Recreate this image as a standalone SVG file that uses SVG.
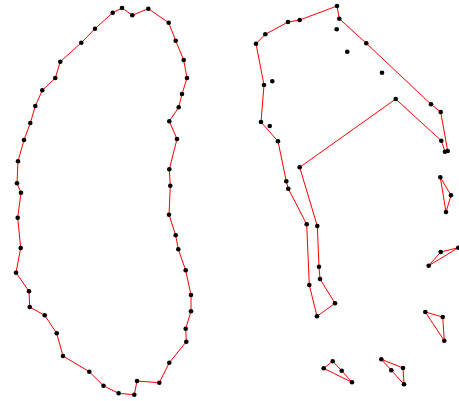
<svg xmlns="http://www.w3.org/2000/svg" width="459" height="401" viewBox="0 0 459 401">
<style>
.e{fill:none;stroke:#ff0000;stroke-width:1;stroke-linejoin:round}
.p{fill:#000}
</style>
<rect width="459" height="401" fill="#fff"/>
<g id="connectors">
<polygon class="e" points="112.7,12.7 122,8 132.3,15.3 148.3,8.7 168.7,22.7 175.7,40.7 183.7,60 187,78 182,94 178.7,107.3 169.3,121.3 177,139 169.3,169.3 170.3,185.7 169,214.7 175.7,235.3 178.3,249.3 185.7,270.3 191,295 191,311.3 185.7,328.7 186.3,341.7 169.3,362.7 159.3,382.7 137,381 134.3,394.7 118.7,393.3 103.5,385.8 89.3,371.7 63,356 56.7,333.3 44.7,315.3 29.7,307 29,291.3 16,272.7 20.7,248 17.7,217.7 21,192.7 17,183.3 18,161.3 24,140 30.3,123 35.3,106 42.3,90.3 55.3,78 60.3,61.7 81.3,42.7 95,28.7"/>
<polygon class="e" points="337,6 339.3,18.7 366.3,43.3 431,104.3 440.7,112 447.7,151 445,151.7 441.3,140.7 395.7,99 299.7,167.3 317.3,226 319,266.7 320,279 335,303.3 317,316.3 309.3,285 306.7,224.3 288.3,188.7 286.3,181.3 278,141.3 261,122 264,85 256,43.7 265.3,34.3 288,22 299.7,20"/>
<polygon class="e" points="440.3,177.3 451,195.3 446,212"/>
<polygon class="e" points="428.7,265.7 440.7,252 458.3,247.7"/>
<polygon class="e" points="425.3,312 442.7,317 444.3,340.7"/>
<polygon class="e" points="381.3,359.3 403,368 404,384.3 391.3,370.3"/>
<polygon class="e" points="323.7,368.3 332.7,361.3 341.7,370.7 352,382.3"/>
</g>
<g id="points" class="p">
<circle cx="112.7" cy="12.7" r="2.3"/><circle cx="122" cy="8" r="2.3"/><circle cx="132.3" cy="15.3" r="2.3"/><circle cx="148.3" cy="8.7" r="2.3"/><circle cx="168.7" cy="22.7" r="2.3"/><circle cx="175.7" cy="40.7" r="2.3"/><circle cx="183.7" cy="60" r="2.3"/><circle cx="187" cy="78" r="2.3"/><circle cx="182" cy="94" r="2.3"/><circle cx="178.7" cy="107.3" r="2.3"/><circle cx="169.3" cy="121.3" r="2.3"/><circle cx="177" cy="139" r="2.3"/><circle cx="169.3" cy="169.3" r="2.3"/><circle cx="170.3" cy="185.7" r="2.3"/><circle cx="169" cy="214.7" r="2.3"/><circle cx="175.7" cy="235.3" r="2.3"/><circle cx="178.3" cy="249.3" r="2.3"/><circle cx="185.7" cy="270.3" r="2.3"/><circle cx="191" cy="295" r="2.3"/><circle cx="191" cy="311.3" r="2.3"/><circle cx="185.7" cy="328.7" r="2.3"/><circle cx="186.3" cy="341.7" r="2.3"/><circle cx="169.3" cy="362.7" r="2.3"/><circle cx="159.3" cy="382.7" r="2.3"/><circle cx="137" cy="381" r="2.3"/><circle cx="134.3" cy="394.7" r="2.3"/><circle cx="118.7" cy="393.3" r="2.3"/><circle cx="103.5" cy="385.8" r="2.3"/><circle cx="89.3" cy="371.7" r="2.3"/><circle cx="63" cy="356" r="2.3"/><circle cx="56.7" cy="333.3" r="2.3"/><circle cx="44.7" cy="315.3" r="2.3"/><circle cx="29.7" cy="307" r="2.3"/><circle cx="29" cy="291.3" r="2.3"/><circle cx="16" cy="272.7" r="2.3"/><circle cx="20.7" cy="248" r="2.3"/><circle cx="17.7" cy="217.7" r="2.3"/><circle cx="21" cy="192.7" r="2.3"/><circle cx="17" cy="183.3" r="2.3"/><circle cx="18" cy="161.3" r="2.3"/><circle cx="24" cy="140" r="2.3"/><circle cx="30.3" cy="123" r="2.3"/><circle cx="35.3" cy="106" r="2.3"/><circle cx="42.3" cy="90.3" r="2.3"/><circle cx="55.3" cy="78" r="2.3"/><circle cx="60.3" cy="61.7" r="2.3"/><circle cx="81.3" cy="42.7" r="2.3"/><circle cx="95" cy="28.7" r="2.3"/>
<circle cx="337" cy="6" r="2.3"/><circle cx="339.3" cy="18.7" r="2.3"/><circle cx="366.3" cy="43.3" r="2.3"/><circle cx="431" cy="104.3" r="2.3"/><circle cx="440.7" cy="112" r="2.3"/><circle cx="447.7" cy="151" r="2.3"/><circle cx="445" cy="151.7" r="2.3"/><circle cx="441.3" cy="140.7" r="2.3"/><circle cx="395.7" cy="99" r="2.3"/><circle cx="299.7" cy="167.3" r="2.3"/><circle cx="317.3" cy="226" r="2.3"/><circle cx="319" cy="266.7" r="2.3"/><circle cx="320" cy="279" r="2.3"/><circle cx="335" cy="303.3" r="2.3"/><circle cx="317" cy="316.3" r="2.3"/><circle cx="309.3" cy="285" r="2.3"/><circle cx="306.7" cy="224.3" r="2.3"/><circle cx="288.3" cy="188.7" r="2.3"/><circle cx="286.3" cy="181.3" r="2.3"/><circle cx="278" cy="141.3" r="2.3"/><circle cx="261" cy="122" r="2.3"/><circle cx="264" cy="85" r="2.3"/><circle cx="256" cy="43.7" r="2.3"/><circle cx="265.3" cy="34.3" r="2.3"/><circle cx="288" cy="22" r="2.3"/><circle cx="299.7" cy="20" r="2.3"/>
<circle cx="336.7" cy="29.3" r="2.3"/><circle cx="347.3" cy="51.7" r="2.3"/><circle cx="382" cy="72.7" r="2.3"/><circle cx="272.3" cy="81.3" r="2.3"/><circle cx="269.7" cy="126" r="2.3"/>
<circle cx="440.3" cy="177.3" r="2.3"/><circle cx="451" cy="195.3" r="2.3"/><circle cx="446" cy="212" r="2.3"/>
<circle cx="428.7" cy="265.7" r="2.3"/><circle cx="440.7" cy="252" r="2.3"/><circle cx="458.3" cy="247.7" r="2.3"/>
<circle cx="425.3" cy="312" r="2.3"/><circle cx="442.7" cy="317" r="2.3"/><circle cx="444.3" cy="340.7" r="2.3"/>
<circle cx="381.3" cy="359.3" r="2.3"/><circle cx="403" cy="368" r="2.3"/><circle cx="404" cy="384.3" r="2.3"/><circle cx="391.3" cy="370.3" r="2.3"/>
<circle cx="323.7" cy="368.3" r="2.3"/><circle cx="332.7" cy="361.3" r="2.3"/><circle cx="341.7" cy="370.7" r="2.3"/><circle cx="352" cy="382.3" r="2.3"/>
</g>
</svg>
